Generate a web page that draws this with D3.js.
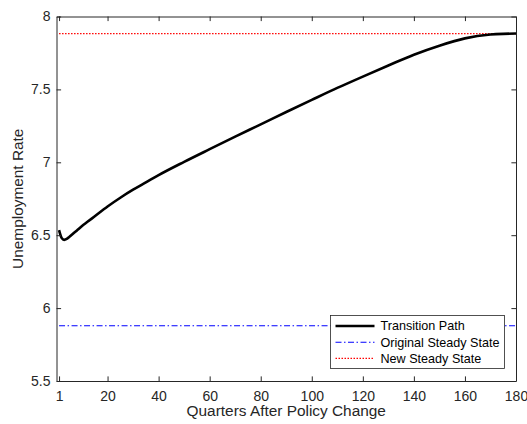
<!DOCTYPE html>
<html>
<head>
<meta charset="utf-8">
<script src="https://cdn.jsdelivr.net/npm/d3@7"></script>
<style>
  html, body { margin: 0; padding: 0; background: #fff; }
  svg { display: block; font-family: "Liberation Sans", Arial, Helvetica, sans-serif; }
</style>
</head>
<body>
<svg id="chart" width="527" height="424"></svg>
<script>
// Unemployment rate along the transition path after the policy change
const quarters = [1, 2, 3, 4, 5, 6, 8, 10, 12, 15, 20, 25, 30, 35, 40, 50, 60, 70, 80, 90,
                  100, 110, 120, 130, 140, 150, 160, 170, 175, 180];
const unemployment = [6.535, 6.482, 6.468, 6.474, 6.488, 6.503, 6.533, 6.563, 6.59, 6.63,
                      6.697, 6.757, 6.812, 6.862, 6.912, 7.003, 7.09, 7.176, 7.26, 7.345,
                      7.428, 7.51, 7.588, 7.664, 7.738, 7.8, 7.85, 7.876, 7.881, 7.883];

// Steady-state unemployment before and after the policy change
const originalSteadyState = 5.879;
const newSteadyState = 7.883;

const xDomain = [0, 180];
const yDomain = [5.5, 8];
const xTicks = [1, 20, 40, 60, 80, 100, 120, 140, 160, 180];
const yTicks = [5.5, 6, 6.5, 7, 7.5, 8];
const legendLabels = ["Transition Path", "Original Steady State", "New Steady State"];

const svg = d3.select("#chart");
const margin = { left: 56.5, right: 11, top: 16.5, bottom: 43 };
const W = 527, H = 424;
const x = d3.scaleLinear().domain(xDomain).range([margin.left, W - margin.right]);
const y = d3.scaleLinear().domain(yDomain).range([H - margin.bottom, margin.top]);

const axisColor = "#262626";
const tickLen = 4.6;
const blueDash = "6,2.5,1.5,2.5";
const redDot = "1.5,1.5";

// Horizontal steady-state reference lines
const ssLine = v => [[quarters[0], v], [quarters[quarters.length - 1], v]];
const line = d3.line().x(d => x(d[0])).y(d => y(d[1]));

svg.append("path")
  .attr("d", line(ssLine(originalSteadyState)))
  .attr("fill", "none").attr("stroke", "#0000ff").attr("stroke-width", 1.1)
  .attr("stroke-dasharray", blueDash);

svg.append("path")
  .attr("d", line(ssLine(newSteadyState)))
  .attr("fill", "none").attr("stroke", "#ff0000").attr("stroke-width", 1.2)
  .attr("stroke-dasharray", redDot);

// Transition path
const pathLine = d3.line()
  .x((d, i) => x(quarters[i]))
  .y(d => y(d))
  .curve(d3.curveMonotoneX);

svg.append("path")
  .attr("d", pathLine(unemployment))
  .attr("fill", "none").attr("stroke", "#000").attr("stroke-width", 2.6)
  .attr("stroke-linejoin", "round");

// Axes: bottom/left with labels, mirrored ticks on top/right, inward ticks
const xAxisB = d3.axisBottom(x).tickValues(xTicks).tickSizeInner(-tickLen).tickSizeOuter(0).tickPadding(10);
const xAxisT = d3.axisTop(x).tickValues(xTicks).tickSizeInner(-tickLen).tickSizeOuter(0).tickFormat("");
const yAxisL = d3.axisLeft(y).tickValues(yTicks).tickSizeInner(-tickLen).tickSizeOuter(0).tickPadding(6)
  .tickFormat(d3.format("~g"));
const yAxisR = d3.axisRight(y).tickValues(yTicks).tickSizeInner(-tickLen).tickSizeOuter(0).tickFormat("");

function styleAxis(g) {
  g.select(".domain").attr("stroke", axisColor).attr("stroke-width", 1);
  g.selectAll(".tick line").attr("stroke", axisColor).attr("stroke-width", 1);
  g.selectAll(".tick text").attr("fill", axisColor).attr("font-size", 14)
    .attr("font-family", "Liberation Sans, Arial, sans-serif");
}

svg.append("g").attr("transform", `translate(0,${H - margin.bottom})`).call(xAxisB).call(styleAxis);
svg.append("g").attr("transform", `translate(0,${margin.top})`).call(xAxisT).call(styleAxis);
svg.append("g").attr("transform", `translate(${margin.left},0)`).call(yAxisL).call(styleAxis);
svg.append("g").attr("transform", `translate(${W - margin.right},0)`).call(yAxisR).call(styleAxis);

// Axis titles
svg.append("text")
  .attr("x", (x.range()[0] + x.range()[1]) / 2).attr("y", 415.5)
  .attr("text-anchor", "middle").attr("font-size", 15.4).attr("fill", axisColor)
  .text("Quarters After Policy Change");

svg.append("text")
  .attr("transform", `translate(23,${(y.range()[0] + y.range()[1]) / 2}) rotate(-90)`)
  .attr("text-anchor", "middle").attr("font-size", 15.4).attr("fill", axisColor)
  .text("Unemployment Rate");

// Legend
const legend = svg.append("g").attr("transform", "translate(330.5,315.5)");
legend.append("rect").attr("width", 174).attr("height", 53)
  .attr("fill", "#fff").attr("stroke", axisColor).attr("stroke-width", 0.8);

const legendStyles = [
  { stroke: "#000", width: 2.6, dash: null },
  { stroke: "#0000ff", width: 1.1, dash: blueDash },
  { stroke: "#ff0000", width: 1.2, dash: redDot }
];
legendLabels.forEach((label, i) => {
  const ly = 10.5 + i * 16.2;
  const s = legendStyles[i];
  legend.append("line")
    .attr("x1", 5).attr("x2", 44).attr("y1", ly).attr("y2", ly)
    .attr("stroke", s.stroke).attr("stroke-width", s.width)
    .attr("stroke-dasharray", s.dash);
  legend.append("text")
    .attr("x", 50).attr("y", ly).attr("dy", "0.35em")
    .attr("font-size", 12.6).attr("fill", "#000")
    .text(label);
});
</script>
</body>
</html>
